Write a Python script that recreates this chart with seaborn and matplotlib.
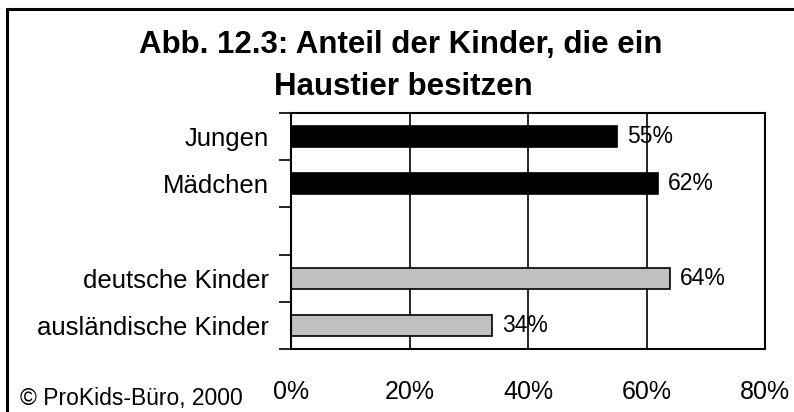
import numpy as np
import pandas as pd
import matplotlib
matplotlib.use("Agg")
import matplotlib.pyplot as plt
import seaborn as sns

# chart data
categories = ["Jungen", "Mädchen", "deutsche Kinder", "ausländische Kinder"]
values = [55, 62, 64, 34]
groups = ["Geschlecht", "Geschlecht", "Nationalität", "Nationalität"]
# blank slot between the two groups
order = ["Jungen", "Mädchen", " ", "deutsche Kinder", "ausländische Kinder"]
x_ticks = [0, 20, 40, 60, 80]
x_tick_labels = ["0%", "20%", "40%", "60%", "80%"]
group_colors = {"Geschlecht": "#000000", "Nationalität": "#c0c0c0"}

title_lines = ["Abb. 12.3: Anteil der Kinder, die ein", "Haustier besitzen"]
source_note = "© ProKids-Büro, 2000"

sns.set_theme(style="white")
plt.rcParams["font.family"] = ["Liberation Sans", "DejaVu Sans"]
plt.rcParams["text.color"] = "black"
plt.rcParams["xtick.color"] = "black"
plt.rcParams["ytick.color"] = "black"
plt.rcParams["axes.labelcolor"] = "black"

df = pd.DataFrame({"label": categories, "value": values, "group": groups})

W, H = 794, 412
fig = plt.figure(figsize=(W / 100, H / 100), dpi=100)
ax = fig.add_axes([291 / W, 1 - 349 / H, (765 - 291) / W, (349 - 113) / H])

sns.barplot(data=df, x="value", y="label", hue="group", order=order,
            palette=group_colors, dodge=False, width=0.45, saturation=1,
            edgecolor="black", linewidth=1.2, legend=False, ax=ax)

# value labels next to the bars
for cont in ax.containers:
    ax.bar_label(cont, fmt="{:.0f}%", padding=7, fontsize=16.5, color="black")

ax.set_xlim(0, 80)
ax.set_ylim(len(order) - 0.5, -0.5)
ax.set_xticks(x_ticks)
ax.set_xticklabels(x_tick_labels, fontsize=18)
ax.tick_params(axis="x", length=0, pad=22)
ax.tick_params(axis="y", which="major", length=0, pad=16, labelsize=18.5)
ax.set_yticks(np.arange(-0.5, len(order)), minor=True)
ax.tick_params(axis="y", which="minor", length=9, width=1.2, color="black",
               direction="out", left=True)
ax.set_xlabel("")
ax.set_ylabel("")

# vertical gridlines
for xv in x_ticks[1:-1]:
    ax.axvline(xv, color="black", linewidth=1.2, zorder=0)

for sp in ax.spines.values():
    sp.set_visible(True)
    sp.set_color("black")
    sp.set_linewidth(1.5)

# title lines
fig.text(401 / W, 1 - 53 / H, title_lines[0], ha="center", va="baseline",
         fontsize=22.5, fontweight="bold")
fig.text(403 / W, 1 - 95 / H, title_lines[1], ha="center", va="baseline",
         fontsize=22.5, fontweight="bold")

# source note
fig.text(20 / W, 1 - 405 / H, source_note, ha="left", va="baseline", fontsize=16.5)

# frame around the chart (only left and top edge visible)
fig.add_artist(plt.Line2D([7 / W, 7 / W], [0, 1 - 9 / H], color="black",
                          linewidth=2.2, transform=fig.transFigure))
fig.add_artist(plt.Line2D([7 / W, 1], [1 - 9 / H, 1 - 9 / H], color="black",
                          linewidth=2.2, transform=fig.transFigure))

fig.savefig("out.png", dpi=100)
